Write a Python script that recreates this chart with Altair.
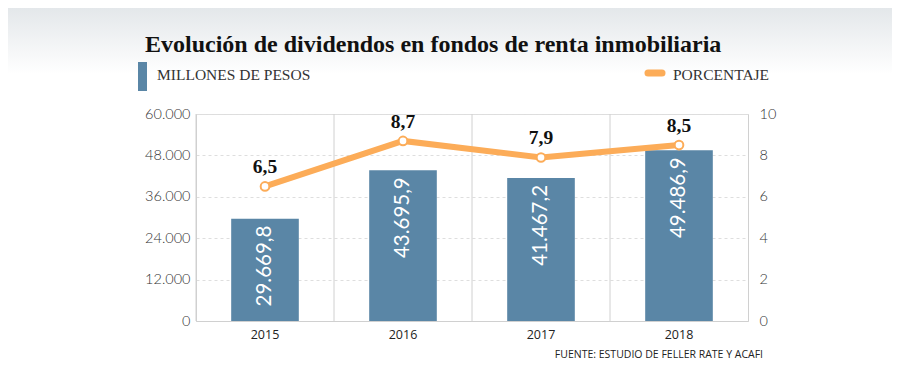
import altair as alt
import pandas as pd

years = ["2015", "2016", "2017", "2018"]
millones = [29669.8, 43695.9, 41467.2, 49486.9]
millones_txt = ["29.669,8", "43.695,9", "41.467,2", "49.486,9"]
porcentaje = [6.5, 8.7, 7.9, 8.5]
porcentaje_txt = ["6,5", "8,7", "7,9", "8,5"]

title_text = "Evolución de dividendos en fondos de renta inmobiliaria"
legend_bar = "MILLONES DE PESOS"
legend_line = "PORCENTAJE"
source_text = "FUENTE: ESTUDIO DE FELLER RATE Y ACAFI"

BLUE = "#5a86a6"
ORANGE = "#fcac58"
GRID = "#d0d0d0"

df = pd.DataFrame({"year": years, "millones": millones, "mtxt": millones_txt,
                   "pct": porcentaje, "ptxt": porcentaje_txt})
one = pd.DataFrame({"a": [0]})

W, H = 552, 207

xscale = alt.Scale(domain=years, paddingInner=0, paddingOuter=0)
xaxis = alt.Axis(title=None, grid=False, ticks=False, domain=True,
                 domainColor=GRID, labelFont="Open Sans", labelFontSize=12.5,
                 labelColor="#222", labelPadding=7, labelAngle=0)
x_enc = alt.X("year:N", scale=xscale, axis=xaxis)

y_left = alt.Y("millones:Q", scale=alt.Scale(domain=[0, 60000]),
               axis=alt.Axis(title=None, orient="left", values=[0, 12000, 24000, 36000, 48000, 60000],
                             format=",d", grid=True, gridColor="#dedede", gridDash=[3, 3],
                             ticks=False, domainColor=GRID, labelFont="Lato", labelFontWeight=300,
                             labelFontSize=14.5, labelColor="#333", labelPadding=6,
                             labelExpr="replace(datum.label, ',', '.')"))
y_right = alt.Y("pct:Q", scale=alt.Scale(domain=[0, 10]),
                axis=alt.Axis(title=None, orient="right", values=[0, 2, 4, 6, 8, 10],
                              grid=False, ticks=False, domainColor=GRID, labelFont="Lato",
                              labelFontWeight=300, labelFontSize=14.5, labelColor="#333",
                              labelPadding=11))

bg = alt.Chart(one).mark_rect(
    fill=alt.Gradient(gradient="linear",
                      stops=[alt.GradientStop(color="#e2e6e9", offset=0),
                             alt.GradientStop(color="#ffffff", offset=1)],
                      x1=0, x2=0, y1=0, y2=1)
).encode(x=alt.value(-200), x2=alt.value(720), y=alt.value(-110), y2=alt.value(-40))

vgrid = alt.Chart(df).mark_rule(color=GRID, strokeWidth=1).encode(
    x=alt.X("year:N", scale=xscale, axis=xaxis, bandPosition=0),
    y=alt.value(0), y2=alt.value(H))

bars = alt.Chart(df).mark_bar(color=BLUE, width={"band": 0.49}).encode(x=x_enc, y=y_left)
bar_txt = alt.Chart(df).mark_text(angle=270, align="right", baseline="middle", dx=-7,
                                  color="white", font="Lato", fontSize=20.5).encode(
    x=x_enc, y=alt.Y("millones:Q"), text="mtxt:N")
left = alt.layer(bars, bar_txt)

line = alt.Chart(df).mark_line(color=ORANGE, strokeWidth=6).encode(x=x_enc, y=y_right)
pts = alt.Chart(df).mark_point(filled=True, fill="white", stroke=ORANGE, strokeWidth=2,
                               size=75, opacity=1).encode(x=x_enc, y=alt.Y("pct:Q"))
pct_txt = alt.Chart(df).mark_text(dy=-13, baseline="alphabetic", font="Liberation Serif",
                                  fontWeight="bold", fontSize=19.5, color="#111").encode(
    x=x_enc, y=alt.Y("pct:Q"), text="ptxt:N")
right = alt.layer(line, pts, pct_txt)

title = alt.Chart(one).mark_text(align="left", baseline="alphabetic", font="Liberation Serif",
                                 fontWeight="bold", fontSize=24, color="#111").encode(
    x=alt.value(-51), y=alt.value(-62), text=alt.value(title_text))
leg_rect = alt.Chart(one).mark_rect(color=BLUE).encode(
    x=alt.value(-58), x2=alt.value(-49), y=alt.value(-52), y2=alt.value(-23))
leg_txt1 = alt.Chart(one).mark_text(align="left", baseline="alphabetic", font="Liberation Serif",
                                    fontSize=15.5, color="#333").encode(
    x=alt.value(-39), y=alt.value(-34), text=alt.value(legend_bar))
leg_line = alt.Chart(one).mark_rule(color=ORANGE, strokeWidth=7, strokeCap="round").encode(
    x=alt.value(452), x2=alt.value(466), y=alt.value(-41))
leg_txt2 = alt.Chart(one).mark_text(align="left", baseline="alphabetic", font="Liberation Serif",
                                    fontSize=15.5, color="#333").encode(
    x=alt.value(477), y=alt.value(-34), text=alt.value(legend_line))
source = alt.Chart(one).mark_text(align="right", baseline="alphabetic", font="Open Sans",
                                  fontSize=10.5, color="#222").encode(
    x=alt.value(567), y=alt.value(244), text=alt.value(source_text))

chart = alt.layer(bg, vgrid, left, right, title, leg_rect, leg_txt1, leg_line, leg_txt2, source).resolve_scale(
    y="independent"
).properties(
    width=W, height=H,
    autosize=alt.AutoSizeParams(type="none"),
    padding={"left": 188, "top": 106, "right": 144, "bottom": 54},
).configure_view(stroke=None).configure(background="white")

chart.save("out.html", embed_options={"renderer": "svg", "actions": False})
